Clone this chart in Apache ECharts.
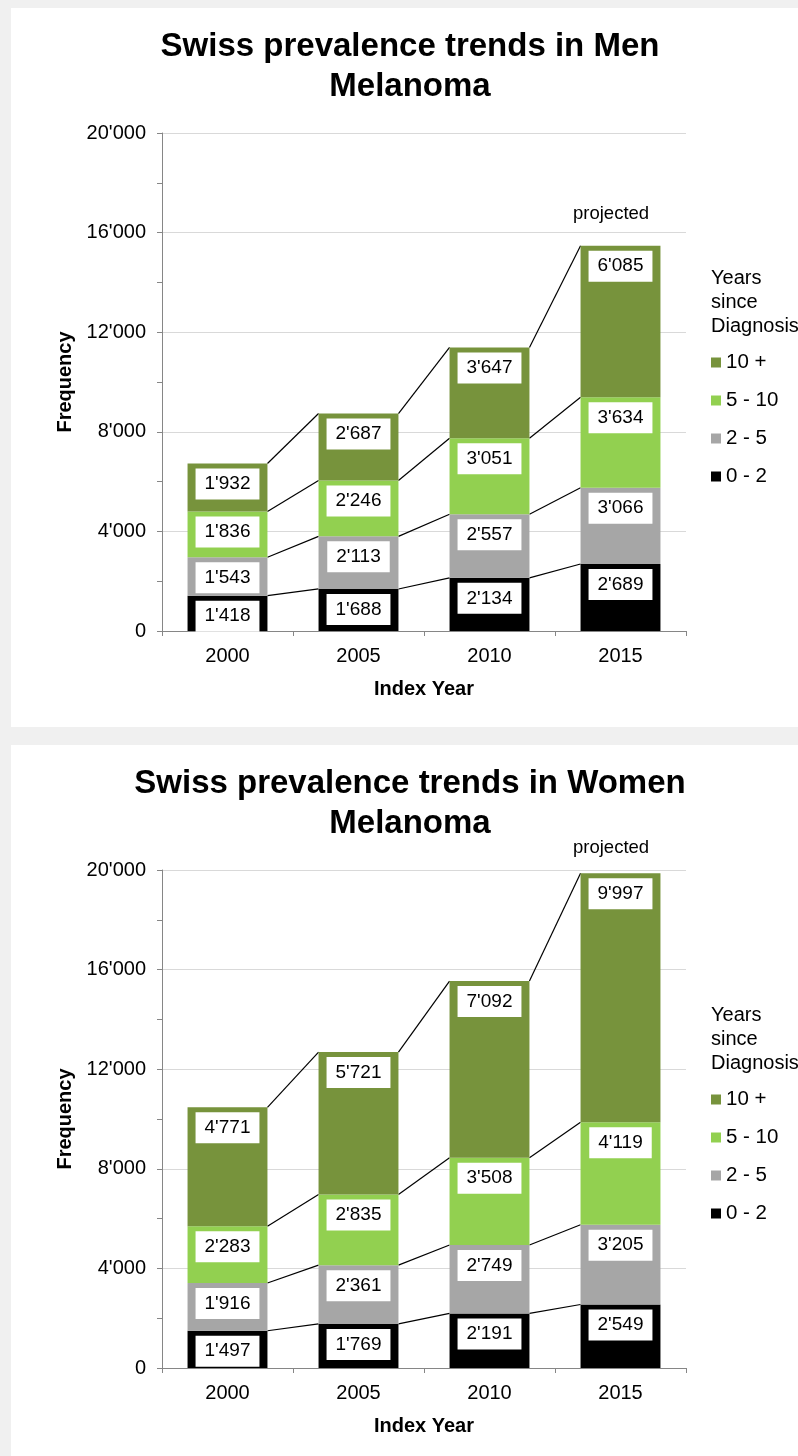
<!DOCTYPE html>
<html>
<head>
<meta charset="utf-8">
<script src="https://cdn.jsdelivr.net/npm/echarts@6/dist/echarts.min.js"></script>
<style>
  html, body { margin: 0; padding: 0; background: #f0f0f0; overflow: hidden; }
  body { width: 798px; height: 1456px; position: relative; }
  .panel { position: absolute; left: 11px; width: 798px; background: #fff; }
  #men { top: 8px; height: 719px; }
  #women { top: 745px; height: 711px; }
</style>
</head>
<body>
<div id="men" class="panel"></div>
<div id="women" class="panel"></div>
<script>
let years = ["2000", "2005", "2010", "2015"];
let groupNames = ["0 - 2", "2 - 5", "5 - 10", "10 +"];
let groupColors = ["#000000", "#a6a6a6", "#92d050", "#77933c"];
let yTicks = [0, 4000, 8000, 12000, 16000, 20000];

// men, years since diagnosis
let men02 = [1418, 1688, 2134, 2689];
let men25 = [1543, 2113, 2557, 3066];
let men510 = [1836, 2246, 3051, 3634];
let men10 = [1932, 2687, 3647, 6085];

// women, years since diagnosis
let women02 = [1497, 1769, 2191, 2549];
let women25 = [1916, 2361, 2749, 3205];
let women510 = [2283, 2835, 3508, 4119];
let women10 = [4771, 5721, 7092, 9997];

let font = "Liberation Sans, Arial, sans-serif";

function swissNum(v) {
  let s = String(Math.round(v));
  return s.replace(/\B(?=(\d{3})+(?!\d))/g, "'");
}

function buildChart(domId, title, groups, projectedTop) {
  let chart = echarts.init(document.getElementById(domId));

  // cumulative tops per group, used by the series lines
  let cum = [];
  let run = years.map(function() { return 0; });
  groups.forEach(function(g) {
    run = run.map(function(r, i) { return r + g[i]; });
    cum.push(run.slice());
  });

  let barSeries = groups.map(function(g, k) {
    return {
      name: groupNames[k],
      type: "bar",
      stack: "total",
      barWidth: "61%",
      z: 3,
      itemStyle: { color: groupColors[k] },
      label: {
        show: true,
        position: "insideTop",
        distance: 5,
        formatter: function(p) { return swissNum(p.value); },
        color: "#000",
        fontFamily: font,
        fontSize: 19,
        lineHeight: 21,
        backgroundColor: "#fff",
        padding: [5, 9]
      },
      data: g
    };
  });

  let connectors = {
    type: "custom",
    z: 2,
    silent: true,
    renderItem: function(params, api) {
      let i = params.dataIndex;
      if (i >= years.length - 1) return;
      let bw = api.size([1, 0])[0] * 0.61;
      let children = [];
      for (let k = 0; k < cum.length; k++) {
        let a = api.coord([i, cum[k][i]]);
        let b = api.coord([i + 1, cum[k][i + 1]]);
        children.push({
          type: "line",
          shape: { x1: a[0] + bw / 2, y1: a[1], x2: b[0] - bw / 2, y2: b[1] },
          style: { stroke: "#000", lineWidth: 1.2 }
        });
      }
      return { type: "group", children: children };
    },
    data: years.map(function(y, i) { return [i, 0]; })
  };

  chart.setOption({
    animation: false,
    title: {
      text: title,
      left: "center",
      top: 19,
      padding: 0,
      textStyle: { fontFamily: font, fontSize: 33, fontWeight: "bold", lineHeight: 40, color: "#000" }
    },
    legend: {
      data: groupNames.slice().reverse(),
      orient: "vertical",
      left: 700,
      top: 344,
      padding: 0,
      icon: "rect",
      itemWidth: 10,
      itemHeight: 10,
      itemGap: 17,
      textStyle: { fontFamily: font, fontSize: 20.5, lineHeight: 21, color: "#000" }
    },
    graphic: [
      {
        type: "text",
        left: 700,
        top: 258,
        style: { text: "Years\nsince\nDiagnosis", fontFamily: font, fontSize: 20, lineHeight: 24, fill: "#000" }
      },
      {
        type: "text",
        left: 562,
        top: projectedTop,
        style: { text: "projected", fontFamily: font, fontSize: 18.5, fill: "#000" }
      }
    ],
    grid: { left: 151, top: 125, width: 524, height: 498 },
    xAxis: {
      type: "category",
      data: years,
      name: "Index Year",
      nameLocation: "middle",
      nameGap: 48,
      nameTextStyle: { fontFamily: font, fontSize: 20, fontWeight: "bold", color: "#000" },
      axisLine: { lineStyle: { color: "#868686" } },
      axisTick: { show: true, length: 5, lineStyle: { color: "#868686" } },
      axisLabel: { fontFamily: font, fontSize: 20, color: "#000", margin: 15 }
    },
    yAxis: {
      type: "value",
      min: yTicks[0],
      max: yTicks[yTicks.length - 1],
      interval: 4000,
      name: "Frequency",
      nameLocation: "middle",
      nameGap: 85,
      nameTextStyle: { fontFamily: font, fontSize: 20, fontWeight: "bold", color: "#000" },
      axisLine: { show: true, lineStyle: { color: "#868686" } },
      axisTick: { show: true, length: 5, lineStyle: { color: "#868686" } },
      minorTick: { show: true, splitNumber: 2, length: 5, lineStyle: { color: "#868686" } },
      splitLine: { lineStyle: { color: "#d9d9d9" } },
      axisLabel: {
        fontFamily: font,
        fontSize: 20,
        color: "#000",
        margin: 16,
        formatter: function(v) { return swissNum(v); }
      }
    },
    series: barSeries.concat([connectors])
  });
  return chart;
}

buildChart("men", "Swiss prevalence trends in Men\nMelanoma", [men02, men25, men510, men10], 196);
buildChart("women", "Swiss prevalence trends in Women\nMelanoma", [women02, women25, women510, women10], 93);
</script>
</body>
</html>
